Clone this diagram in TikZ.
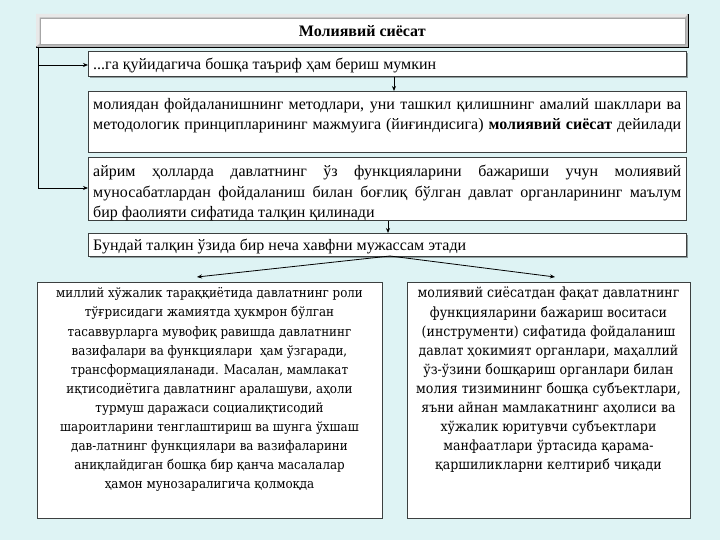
\documentclass[tikz,border=0pt]{standalone}
\usepackage{fontspec}
\setmainfont{Liberation Serif}
\newfontfamily\lrfont{DejaVu Serif Condensed}
\usetikzlibrary{arrows.meta,shadows}
\definecolor{bgc}{RGB}{222,243,244}
\definecolor{bord}{RGB}{60,64,64}
\begin{document}
\begin{tikzpicture}[x=1pt,y=-1pt,
  box/.style={draw=bord, line width=0.9pt, fill=white, inner sep=0pt, anchor=north west},
  shadowed/.style={drop shadow={shadow xshift=1.5pt,shadow yshift=-1.5pt,opacity=0.35,fill=black}},
  arr/.style={line width=0.8pt, -{Stealth[length=5pt,width=4pt]}},
  txt/.style={inner sep=0pt, font=\fontsize{16}{20.5}\selectfont},
  lrtxt/.style={inner sep=0pt, align=center}]
\useasboundingbox (0,0) rectangle (720,540);
\fill[bgc] (0,0) rectangle (720,540);

% title
\node[draw=black, line width=0.6pt, fill=gray!55, minimum width=652, minimum height=33, anchor=north west, inner sep=0pt] (title) at (36,14) {};
\fill[gray!18] (36,14) -- (688,14) -- (684.5,17.5) -- (39.5,17.5) -- (39.5,43.5) -- (36,47) -- cycle;
\node[draw=gray!70, line width=0.5pt, fill=white, minimum width=645, minimum height=26, inner sep=0pt, font=\bfseries\fontsize{16}{19}\selectfont] (titletext) at (title.center) {Молиявий сиёсат};

% boxes
\node[box, shadowed, minimum width=598, minimum height=25] (b1) at (88,51) {};
\node[txt, anchor=west] (t1) at (93,65.5) {...га қуйидагича бошқа таъриф ҳам бериш мумкин};

\node[box, minimum width=598, minimum height=61] (b2) at (88,91) {};
\node[txt, anchor=north west, text width=588, align=justify] (t2) at (93,98)
  {\parfillskip=0pt молиядан фойдаланишнинг методлари, уни ташкил қилишнинг амалий шакллари ва\linebreak методологик принципларининг мажмуига (йиғиндисига) \textbf{молиявий сиёсат} дейилади\par};

\node[box, minimum width=598, minimum height=63] (b3) at (88,157) {};
\node[txt, anchor=north west, text width=588, align=justify] (t3) at (93,165)
  {айрим ҳолларда давлатнинг ўз функцияларини бажариши учун молиявий\linebreak муносабатлардан фойдаланиш билан боғлиқ бўлган давлат органларининг маълум\linebreak бир фаолияти сифатида талқин қилинади};

\node[box, shadowed, minimum width=598, minimum height=23] (b4) at (88,233) {};
\node[txt, anchor=west] (t4) at (93,246.5) {Бундай талқин ўзида бир неча хавфни мужассам этади};

\node[box, minimum width=345, minimum height=236] (bL) at (37,282) {};
\node[lrtxt, anchor=north, font=\lrfont\fontsize{13.2}{19.1}\selectfont] (tL) at (209.5,287.5)
  {миллий хўжалик тараққиётида давлатнинг роли\\
   тўғрисидаги жамиятда ҳукмрон бўлган\\
   тасаввурларга мувофиқ равишда давлатнинг\\
   вазифалари ва функциялари \ ҳам ўзгаради,\\
   трансформацияланади. Масалан, мамлакат\\
   иқтисодиётига давлатнинг аралашуви, аҳоли\\
   турмуш даражаси социалиқтисодий\\
   шароитларини тенглаштириш ва шунга ўхшаш\\
   дав-латнинг функциялари ва вазифаларини\\
   аниқлайдиган бошқа бир қанча масалалар\\
   ҳамон мунозаралигича қолмоқда};

\node[box, minimum width=283, minimum height=236] (bR) at (407,282) {};
\node[lrtxt, anchor=north, font=\lrfont\fontsize{14}{19.1}\selectfont] (tR) at (548.5,287)
  {молиявий сиёсатдан фақат давлатнинг\\
   функцияларини бажариш воситаси\\
   (инструменти) сифатида фойдаланиш\\
   давлат ҳокимият органлари, маҳаллий\\
   ўз-ўзини бошқариш органлари билан\\
   молия тизимининг бошқа субъектлари,\\
   яъни айнан мамлакатнинг аҳолиси ва\\
   хўжалик юритувчи субъектлари\\
   манфаатлари ўртасида қарама-\\
   қаршиликларни келтириб чиқади};

% connectors
\coordinate (v0) at (38,47);
\coordinate (v1) at (38,65);
\coordinate (v2) at (38,188);
\draw[line width=0.8pt] (v0) -- (v2);
\draw[arr] (v1) -- (v1 -| b1.west);
\draw[arr] (v2) -- (v2 -| b3.west);

\coordinate (x1) at (394,0);
\draw[arr] (b1.south -| x1) -- (b2.north -| x1);
\coordinate (x2) at (388,0);
\draw[arr] (b3.south -| x2) -- (b4.north -| x2);

\coordinate (ap) at (390,256);
\coordinate (lt) at (197,277);
\coordinate (rt) at (555,277);
\draw[arr] (ap) -- (lt);
\draw[arr] (ap) -- (rt);
\end{tikzpicture}
\end{document}
